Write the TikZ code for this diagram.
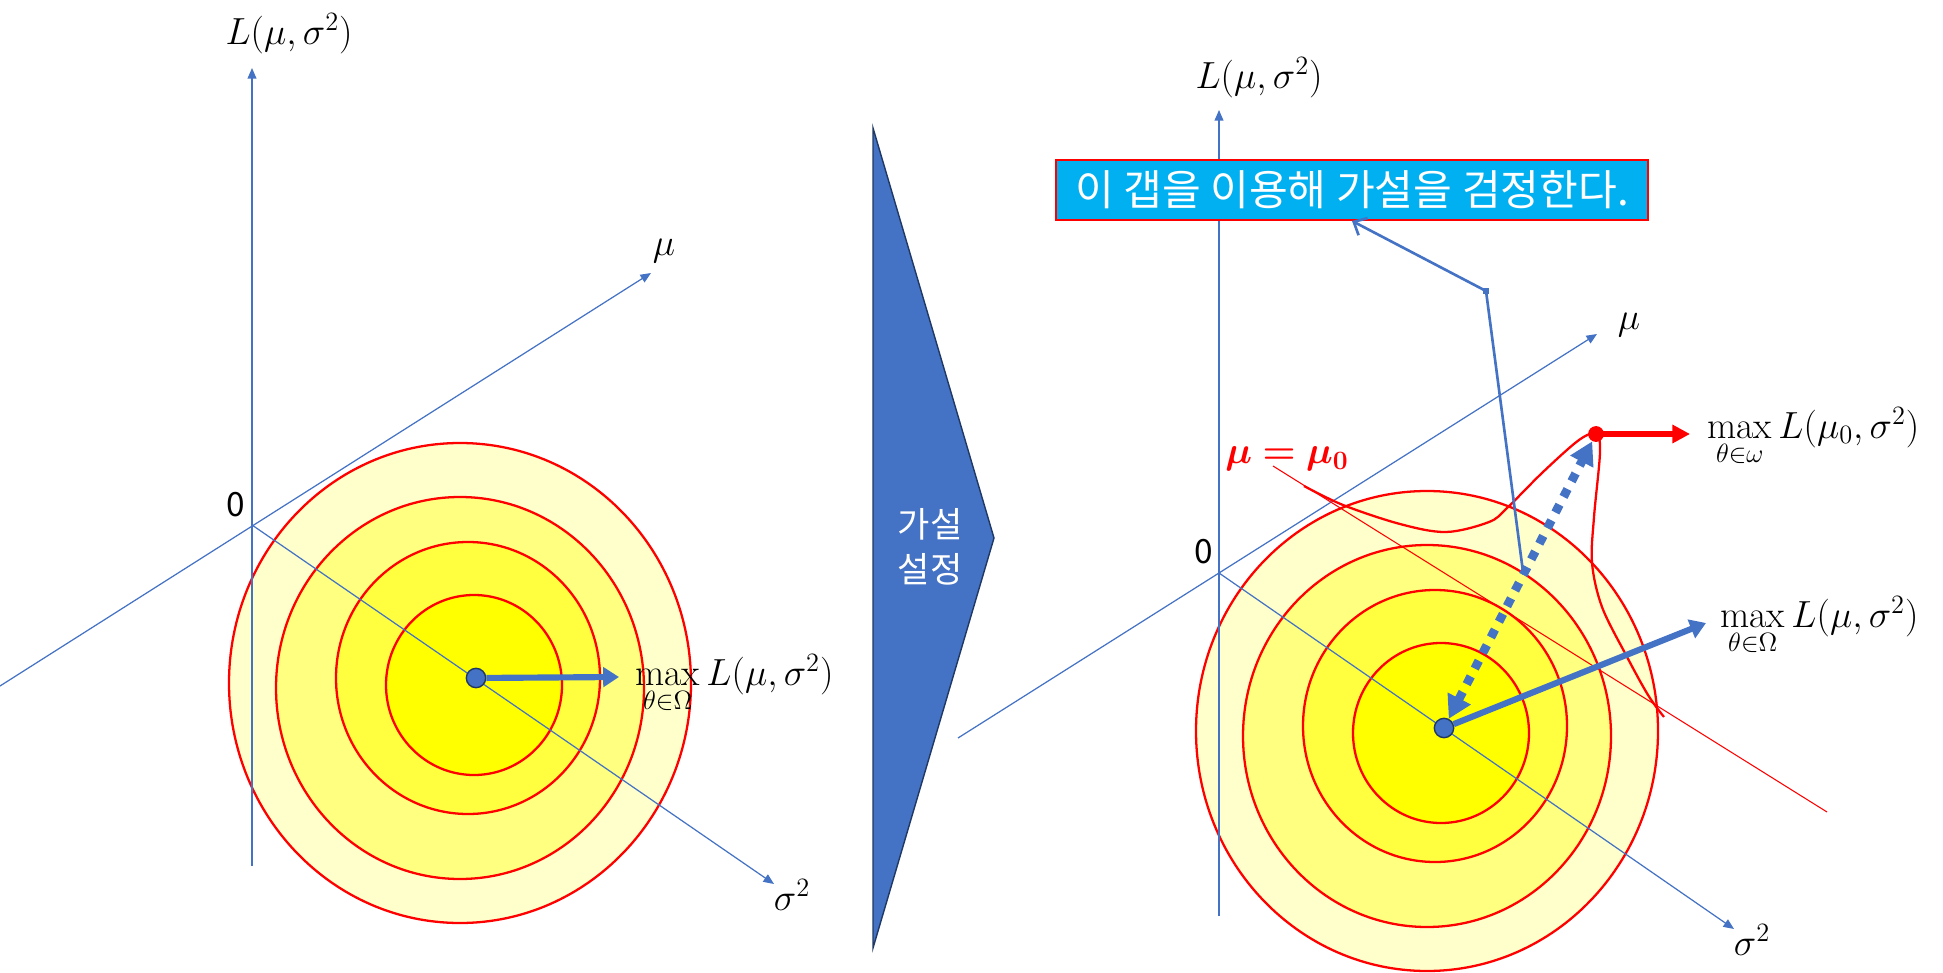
\RequirePackage{fix-cm}
\documentclass[tikz,border=0pt]{standalone}
\usepackage{amsmath}
\usepackage{amssymb}
\usepackage{bm}
\usepackage{fontspec}
\newfontfamily\kofont{Noto Sans CJK KR}
\usetikzlibrary{
    arrows.meta
}

\definecolor{axisblue}{RGB}{68,114,196}
\definecolor{navy}{RGB}{32,56,100}
\definecolor{boxcyan}{RGB}{0,176,240}
\definecolor{ringA}{RGB}{255,255,204}
\definecolor{ringB}{RGB}{255,255,128}
\definecolor{ringC}{RGB}{255,255,64}
\definecolor{ringD}{RGB}{255,255,0}

\tikzset{
    axisline/.style={axisblue, line width=0.7pt, -{Triangle[length=6pt,width=5pt]}},
    ring/.style={draw=red, line width=1.3pt},
    mathlbl/.style={font=\fontsize{21.5}{26}\selectfont, inner sep=0pt},
    zerolbl/.style={font=\kofont\fontsize{19}{22}\selectfont, inner sep=0pt},
    peakdot/.style={circle, fill=axisblue, draw=navy, line width=0.8pt, minimum size=11pt, inner sep=0pt},
    bigarrow/.style={axisblue, line width=3.5pt, -{Triangle[length=9pt,width=11pt]}}
}

\begin{document}
\begin{tikzpicture}[x=0.02cm, y=-0.02cm]
\useasboundingbox (0,0) rectangle (1943,973);

% Contour rings (same in both panels)
\foreach \px/\py in {0/0, 967/48} {
  \begin{scope}[shift={(\px,\py)}]
    \draw[ring, fill=ringA] (460,683) ellipse [x radius=231, y radius=240];
    \draw[ring, fill=ringB] (460,688) ellipse [x radius=184, y radius=191];
    \draw[ring, fill=ringC] (468,678) ellipse [x radius=132, y radius=136];
    \draw[ring, fill=ringD] (474,685) ellipse [x radius=88, y radius=90];
  \end{scope}
}

% Left axes
\coordinate (orgL) at (252,525);
\coordinate (vtopL) at (252,68);
\coordinate (vbotL) at (252,866);
\coordinate (mulowL) at (0,686);
\coordinate (mutipL) at (651,273);
\coordinate (sigtipL) at (774,884);
\draw[axisline] (vbotL) -- (vtopL);
\draw[axisline] (mulowL) -- (mutipL);
\draw[axisline] (orgL) -- (sigtipL);
\node[mathlbl] (likeL) at (289,34) {$L(\mu,\sigma^2)$};
\node[mathlbl] (muL) at (664,251) {$\mu$};
\node[mathlbl] (sigL) at (792,895) {$\sigma^2$};
\node[zerolbl] (zeroL) at (236,505) {0};

% Left maximum
\node[peakdot] (peakL) at (476,678) {};
\coordinate (maxtipL) at (619,677);
\draw[bigarrow] (peakL) -- (maxtipL);
\node[mathlbl, anchor=base west] (maxL) at (635,685) {$\max\limits_{\theta\in\Omega} L(\mu,\sigma^2)$};

% Chevron
\coordinate (chevtop) at (873,128);
\coordinate (chevtip) at (994,538);
\coordinate (chevbot) at (873,948);
\draw[fill=axisblue, draw=navy, line width=0.8pt] (chevtop) -- (chevtip) -- (chevbot) -- cycle;
\node[font=\kofont\fontsize{20}{25.6}\selectfont, text=white, align=center] (setup) at (930,547) {가설\\설정};

% Right axes
\coordinate (orgR) at (1219,573);
\coordinate (vtopR) at (1219,110);
\coordinate (vbotR) at (1219,916);
\coordinate (mulowR) at (958,738);
\coordinate (mutipR) at (1597,334);
\coordinate (sigtipR) at (1734,929);
\draw[axisline] (vbotR) -- (vtopR);
\draw[axisline] (mulowR) -- (mutipR);
\draw[axisline] (orgR) -- (sigtipR);
\node[mathlbl] (likeR) at (1259,78) {$L(\mu,\sigma^2)$};
\node[mathlbl] (muR) at (1629,325) {$\mu$};
\node[mathlbl] (sigR) at (1752,940) {$\sigma^2$};
\node[zerolbl] (zeroR) at (1204,552) {0};

% Null hypothesis line and contour
\coordinate (h0a) at (1273,466);
\coordinate (h0b) at (1827,812);
\draw[red, line width=0.6pt] (h0a) -- (h0b);
\node[mathlbl, text=red] (h0lbl) at (1287,459) {$\bm{\mu=\mu_0}$};
\draw[red, line width=1.3pt] plot[smooth, tension=0.55] coordinates {(1304,486) (1343,505) (1400,524) (1446,532) (1489,522) (1507,508) (1543,472) (1579,440) (1596,434) (1600,452) (1594,517) (1592,563) (1602,607) (1626,655) (1648,695) (1664,717)};

% Message box
\node[draw=red, line width=1.2pt, fill=boxcyan, text=white, font=\kofont\fontsize{24}{28}\selectfont, minimum width=337pt, minimum height=34pt, inner sep=1pt] (msgbox) at (1352,190) {이 갭을 이용해 가설을 검정한다.};

% Right maxima
\node[peakdot] (peakR) at (1444,728) {};
\node[circle, fill=red, minimum size=9pt, inner sep=0pt] (nullpeak) at (1596,434) {};
\coordinate (nulltip) at (1690,434);
\coordinate (maxtipR) at (1706,623);
\draw[bigarrow] (peakR) -- (maxtipR);
\draw[red, line width=3.4pt, -{Triangle[length=10pt,width=10pt]}] (nullpeak.center) -- (nulltip);
\draw[axisblue, line width=5pt, dash pattern=on 5pt off 5pt, {Triangle[length=13pt,width=14pt]}-{Triangle[length=13pt,width=14pt]}] (peakR) -- coordinate[pos=0.52] (gapmid) (nullpeak);
\node[mathlbl, anchor=base west] (maxnull) at (1707,438) {$\max\limits_{\theta\in\omega} L(\mu_0,\sigma^2)$};
\node[mathlbl, anchor=base west] (maxR) at (1720,627) {$\max\limits_{\theta\in\Omega} L(\mu,\sigma^2)$};

% Callout to the box
\node[fill=axisblue, inner sep=0pt, minimum size=3.5pt] (bend) at (1486,291) {};
\draw[axisblue, line width=1.5pt, -{Straight Barb[length=6pt,width=11pt]}] (gapmid) -- (bend.center) -- (msgbox.south);

\end{tikzpicture}
\end{document}
